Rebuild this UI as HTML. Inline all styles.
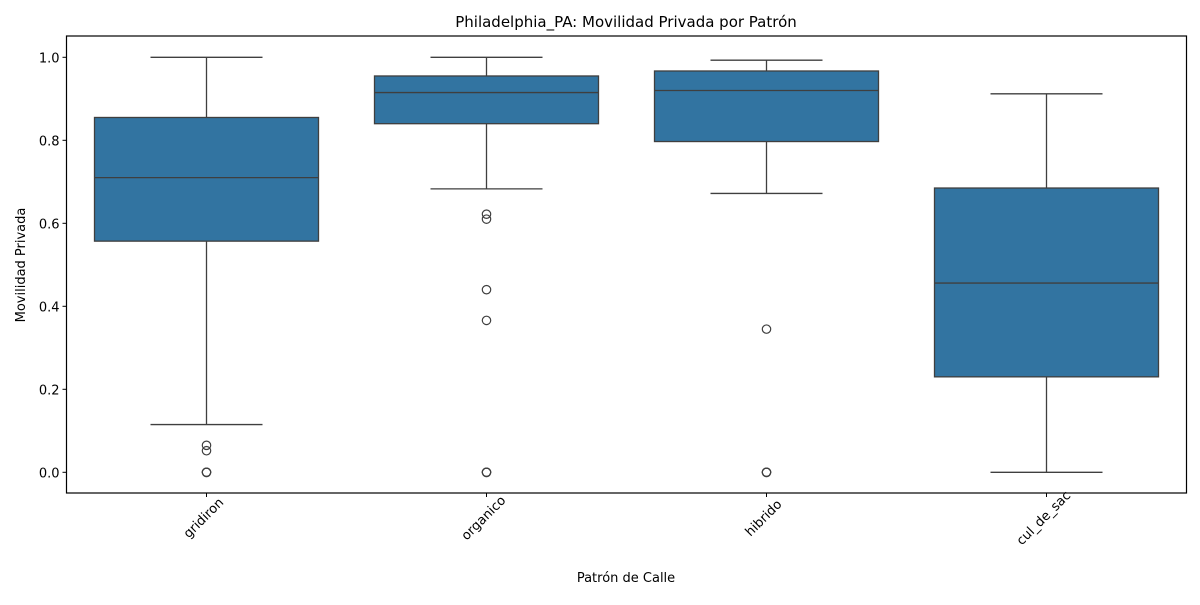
<!DOCTYPE html>
<html><head><meta charset="utf-8"><style>
body{margin:0;background:#fff;}
svg text{font-family:"DejaVu Sans","Liberation Sans",sans-serif;fill:#000;}
</style></head><body>
<svg id="chart" width="1200" height="600" xmlns="http://www.w3.org/2000/svg">
<text x="626" y="27" font-size="15" text-anchor="middle">Philadelphia_PA: Movilidad Privada por Patrón</text>
<text x="626" y="582" font-size="13" text-anchor="middle">Patrón de Calle</text>
<text x="0" y="0" font-size="13" text-anchor="middle" transform="translate(25,265) rotate(-90)">Movilidad Privada</text>
<g id="plot"></g>
<rect x="66.5" y="36" width="1120" height="457" fill="none" stroke="#000" stroke-width="1.2"/>
</svg>
<script>
const categories = ["gridiron","organico","hibrido","cul_de_sac"];
const whiskerHigh = [1.0, 1.0, 0.993, 0.912];
const q3 = [0.855, 0.955, 0.967, 0.685];
const median = [0.71, 0.915, 0.92, 0.456];
const q1 = [0.557, 0.84, 0.797, 0.23];
const whiskerLow = [0.115, 0.683, 0.672, 0.0];
const outliers = [[0.065, 0.052, 0.0, 0.0, 0.0], [0.622, 0.61, 0.44, 0.366, 0.0, 0.0, 0.0], [0.345, 0.0, 0.0, 0.0], []];
const yTicks = [0.0, 0.2, 0.4, 0.6, 0.8, 1.0];
const yTickLabels = ["0.0","0.2","0.4","0.6","0.8","1.0"];

const NS = "http://www.w3.org/2000/svg";
const left = 66.5, right = 1186.5;
const y = v => 472.3 - v * 415;
const x = i => left + (i + 0.5) * (right - left) / categories.length;
const g = document.getElementById('plot');
function mk(tag, attrs, parent) {
  const e = document.createElementNS(NS, tag);
  for (const k in attrs) e.setAttribute(k, attrs[k]);
  (parent || g).appendChild(e);
  return e;
}
const boxW = 224, capW = 112, stroke = "#3f3f3f";
yTicks.forEach((t, i) => {
  const tk = mk('line', {x1: left - 4, x2: left, y1: y(t), y2: y(t), stroke: "#000", "stroke-width": 1});
  
  
  const tx = mk('text', {x: left - 7, y: y(t) + 5, "font-size": 13, "text-anchor": "end"});
  tx.textContent = yTickLabels[i];
  
  
});
categories.forEach((c, i) => {
  const cx = x(i);
  const grp = mk('g', {});
  
  
  mk('line', {x1: cx, x2: cx, y1: y(whiskerHigh[i]), y2: y(q3[i]), stroke, "stroke-width": 1.3}, grp);
  mk('line', {x1: cx, x2: cx, y1: y(q1[i]), y2: y(whiskerLow[i]), stroke, "stroke-width": 1.3}, grp);
  mk('line', {x1: cx - capW/2, x2: cx + capW/2, y1: y(whiskerHigh[i]), y2: y(whiskerHigh[i]), stroke, "stroke-width": 1.3}, grp);
  mk('line', {x1: cx - capW/2, x2: cx + capW/2, y1: y(whiskerLow[i]), y2: y(whiskerLow[i]), stroke, "stroke-width": 1.3}, grp);
  mk('rect', {x: cx - boxW/2, y: y(q3[i]), width: boxW, height: y(q1[i]) - y(q3[i]), fill: "#3274a1", stroke, "stroke-width": 1.3}, grp);
  mk('line', {x1: cx - boxW/2, x2: cx + boxW/2, y1: y(median[i]), y2: y(median[i]), stroke, "stroke-width": 1.3}, grp);
  outliers[i].forEach(v => {
    const o = mk('circle', {cx: cx, cy: y(v), r: 4.2, fill: "none", stroke, "stroke-width": 1.2}, grp);
    
    
  });
  const tk = mk('line', {x1: cx, x2: cx, y1: 493, y2: 497, stroke: "#000", "stroke-width": 1});
  
  
  const tx = mk('text', {x: 0, y: 0, "font-size": 13, "text-anchor": "middle", transform: `translate(${cx},${521}) rotate(-45)`});
  tx.textContent = c;
  
  
});
</script>
</body></html>
